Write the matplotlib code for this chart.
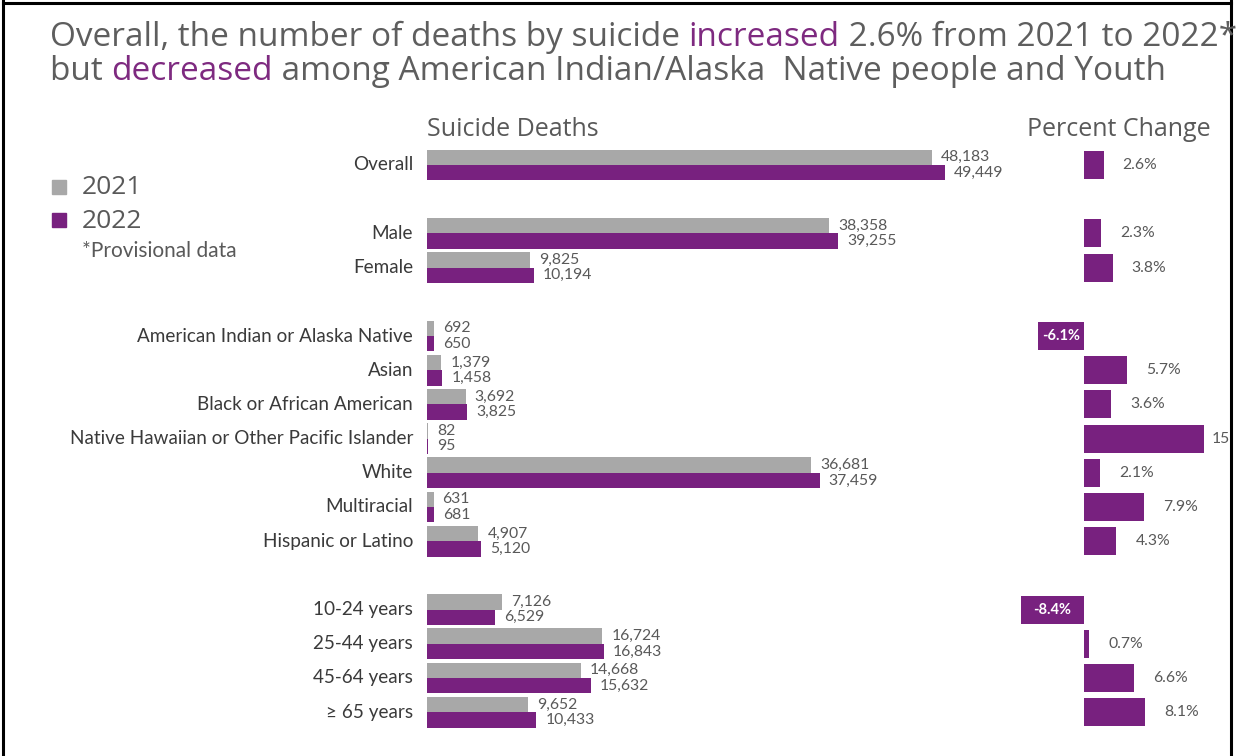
import matplotlib.pyplot as plt
import matplotlib.lines as mlines
import numpy as np

# data
categories = ["Overall", "Male", "Female",
              "American Indian or Alaska Native", "Asian", "Black or African American",
              "Native Hawaiian or Other Pacific Islander", "White", "Multiracial",
              "Hispanic or Latino",
              "10-24 years", "25-44 years", "45-64 years", "\u2265 65 years"]
slots = [0, 2, 3, 5, 6, 7, 8, 9, 10, 11, 13, 14, 15, 16]
deaths_2021 = [48183, 38358, 9825, 692, 1379, 3692, 82, 36681, 631, 4907, 7126, 16724, 14668, 9652]
deaths_2022 = [49449, 39255, 10194, 650, 1458, 3825, 95, 37459, 681, 5120, 6529, 16843, 15632, 10433]
pct_change = [2.6, 2.3, 3.8, -6.1, 5.7, 3.6, 15.9, 2.1, 7.9, 4.3, -8.4, 0.7, 6.6, 8.1]

GRAY_BAR = "#A8A8A8"
PURPLE = "#78217F"
TEXT_GRAY = "#595959"
LABEL_DARK = "#3A3A3A"
TITLE_GRAY = "#5E5E5E"
TITLE_PURPLE = "#7E2A80"

W, H = 1237, 756
fig = plt.figure(figsize=(W / 100, H / 100), dpi=100)
fig.patch.set_facecolor("white")


def fx(px):
    return px / W


def fy(py):
    return 1 - py / H


# row geometry (pixels in the reference)
row0, step = 165, 34.2
s_top, s_bot = -0.5, 16.5
ax_top = row0 + step * s_top
ax_bot = row0 + step * s_bot

# --- left panel: suicide deaths ---
left_x0, left_x1 = 427, 1000
px_per_death = 0.01048
ax = fig.add_axes([fx(left_x0), fy(ax_bot), fx(left_x1 - left_x0), (ax_bot - ax_top) / H])
ax.set_xlim(0, (left_x1 - left_x0) / px_per_death)
ax.set_ylim(s_bot, s_top)
ax.axis("off")

y = np.array(slots, dtype=float)
bh = 0.45
ax.barh(y - bh / 2, deaths_2021, height=bh, color=GRAY_BAR)
ax.barh(y + bh / 2, deaths_2022, height=bh, color=PURPLE)

for yi, v1, v2, cat in zip(y, deaths_2021, deaths_2022, categories):
    ax.annotate(f"{v1:,}", (v1, yi - bh / 2), xytext=(9, 0), textcoords="offset pixels",
                va="center", ha="left", fontsize=11.3, color=TEXT_GRAY, family="Lato")
    ax.annotate(f"{v2:,}", (v2, yi + bh / 2), xytext=(9, 0), textcoords="offset pixels",
                va="center", ha="left", fontsize=11.3, color=TEXT_GRAY, family="Lato")
    ax.annotate(cat, (0, yi), xytext=(-14, 0), textcoords="offset pixels",
                va="center", ha="right", fontsize=13.6, color=LABEL_DARK, family="Lato")

# --- right panel: percent change ---
right_x0, right_x1 = 1000, 1231
zero_px, px_per_pct = 1084, 7.55
ax2 = fig.add_axes([fx(right_x0), fy(ax_bot), fx(right_x1 - right_x0), (ax_bot - ax_top) / H])
ax2.set_xlim((right_x0 - zero_px) / px_per_pct, (right_x1 - zero_px) / px_per_pct)
ax2.set_ylim(s_bot, s_top)
ax2.axis("off")

ax2.barh(y, pct_change, height=0.82, color=PURPLE)
for yi, p in zip(y, pct_change):
    if p < 0:
        ax2.text(p / 2, yi, f"{p:.1f}%", ha="center", va="center", fontsize=10.5,
                 color="white", fontweight="bold", family="Lato")
    else:
        off = 8 if p > 10 else 19
        ax2.annotate(f"{p:.1f}%", (p, yi), xytext=(off, 0), textcoords="offset pixels",
                     va="center", ha="left", fontsize=11.3, color=TEXT_GRAY, family="Lato",
                     annotation_clip=False, clip_on=True)

# --- panel headers ---
fig.text(fx(427), fy(130), "Suicide Deaths", fontsize=18, color=TEXT_GRAY,
         family="Open Sans", va="center", ha="left")
fig.text(fx(1027), fy(130), "Percent Change", fontsize=18, color=TEXT_GRAY,
         family="Open Sans", va="center", ha="left")

# --- legend ---
fig.patches.append(plt.Rectangle((fx(52), fy(194)), fx(14), 14 / H, color=GRAY_BAR,
                                 transform=fig.transFigure, figure=fig))
fig.patches.append(plt.Rectangle((fx(52), fy(227)), fx(14), 14 / H, color=PURPLE,
                                 transform=fig.transFigure, figure=fig))
fig.text(fx(82), fy(187), "2021", fontsize=19, color=TEXT_GRAY, family="Open Sans", va="center")
fig.text(fx(82), fy(221), "2022", fontsize=19, color=TEXT_GRAY, family="Open Sans", va="center")
fig.text(fx(82), fy(251), "*Provisional data", fontsize=15, color=TEXT_GRAY, family="Lato", va="center")

# --- title with coloured words ---
title_lines = [
    [("Overall, the number of deaths by suicide ", TITLE_GRAY), ("increased", TITLE_PURPLE),
     (" 2.6% from 2021 to 2022*", TITLE_GRAY)],
    [("but ", TITLE_GRAY), ("decreased", TITLE_PURPLE),
     (" among American Indian/Alaska  Native people and Youth", TITLE_GRAY)],
]
tax = fig.add_axes([0, 0, 1, 1])
tax.axis("off")
tax.set_xlim(0, W)
tax.set_ylim(H, 0)
for line, ypos in zip(title_lines, [37, 72]):
    t = tax.text(50, ypos, line[0][0], color=line[0][1], fontsize=24, family="Open Sans",
                 va="center", ha="left")
    for s, c in line[1:]:
        t = tax.annotate(s, xy=(1, 0), xycoords=t, va="bottom", ha="left", color=c,
                         fontsize=24, family="Open Sans")

# frame around the picture
for xs, ys in [([3, 3], [0, H]), ([3, 1231], [3, 3]), ([1231, 1231], [0, H])]:
    tax.add_line(mlines.Line2D(xs, ys, color="black", lw=2.2))

fig.savefig("out.png", dpi=100, facecolor="white")
